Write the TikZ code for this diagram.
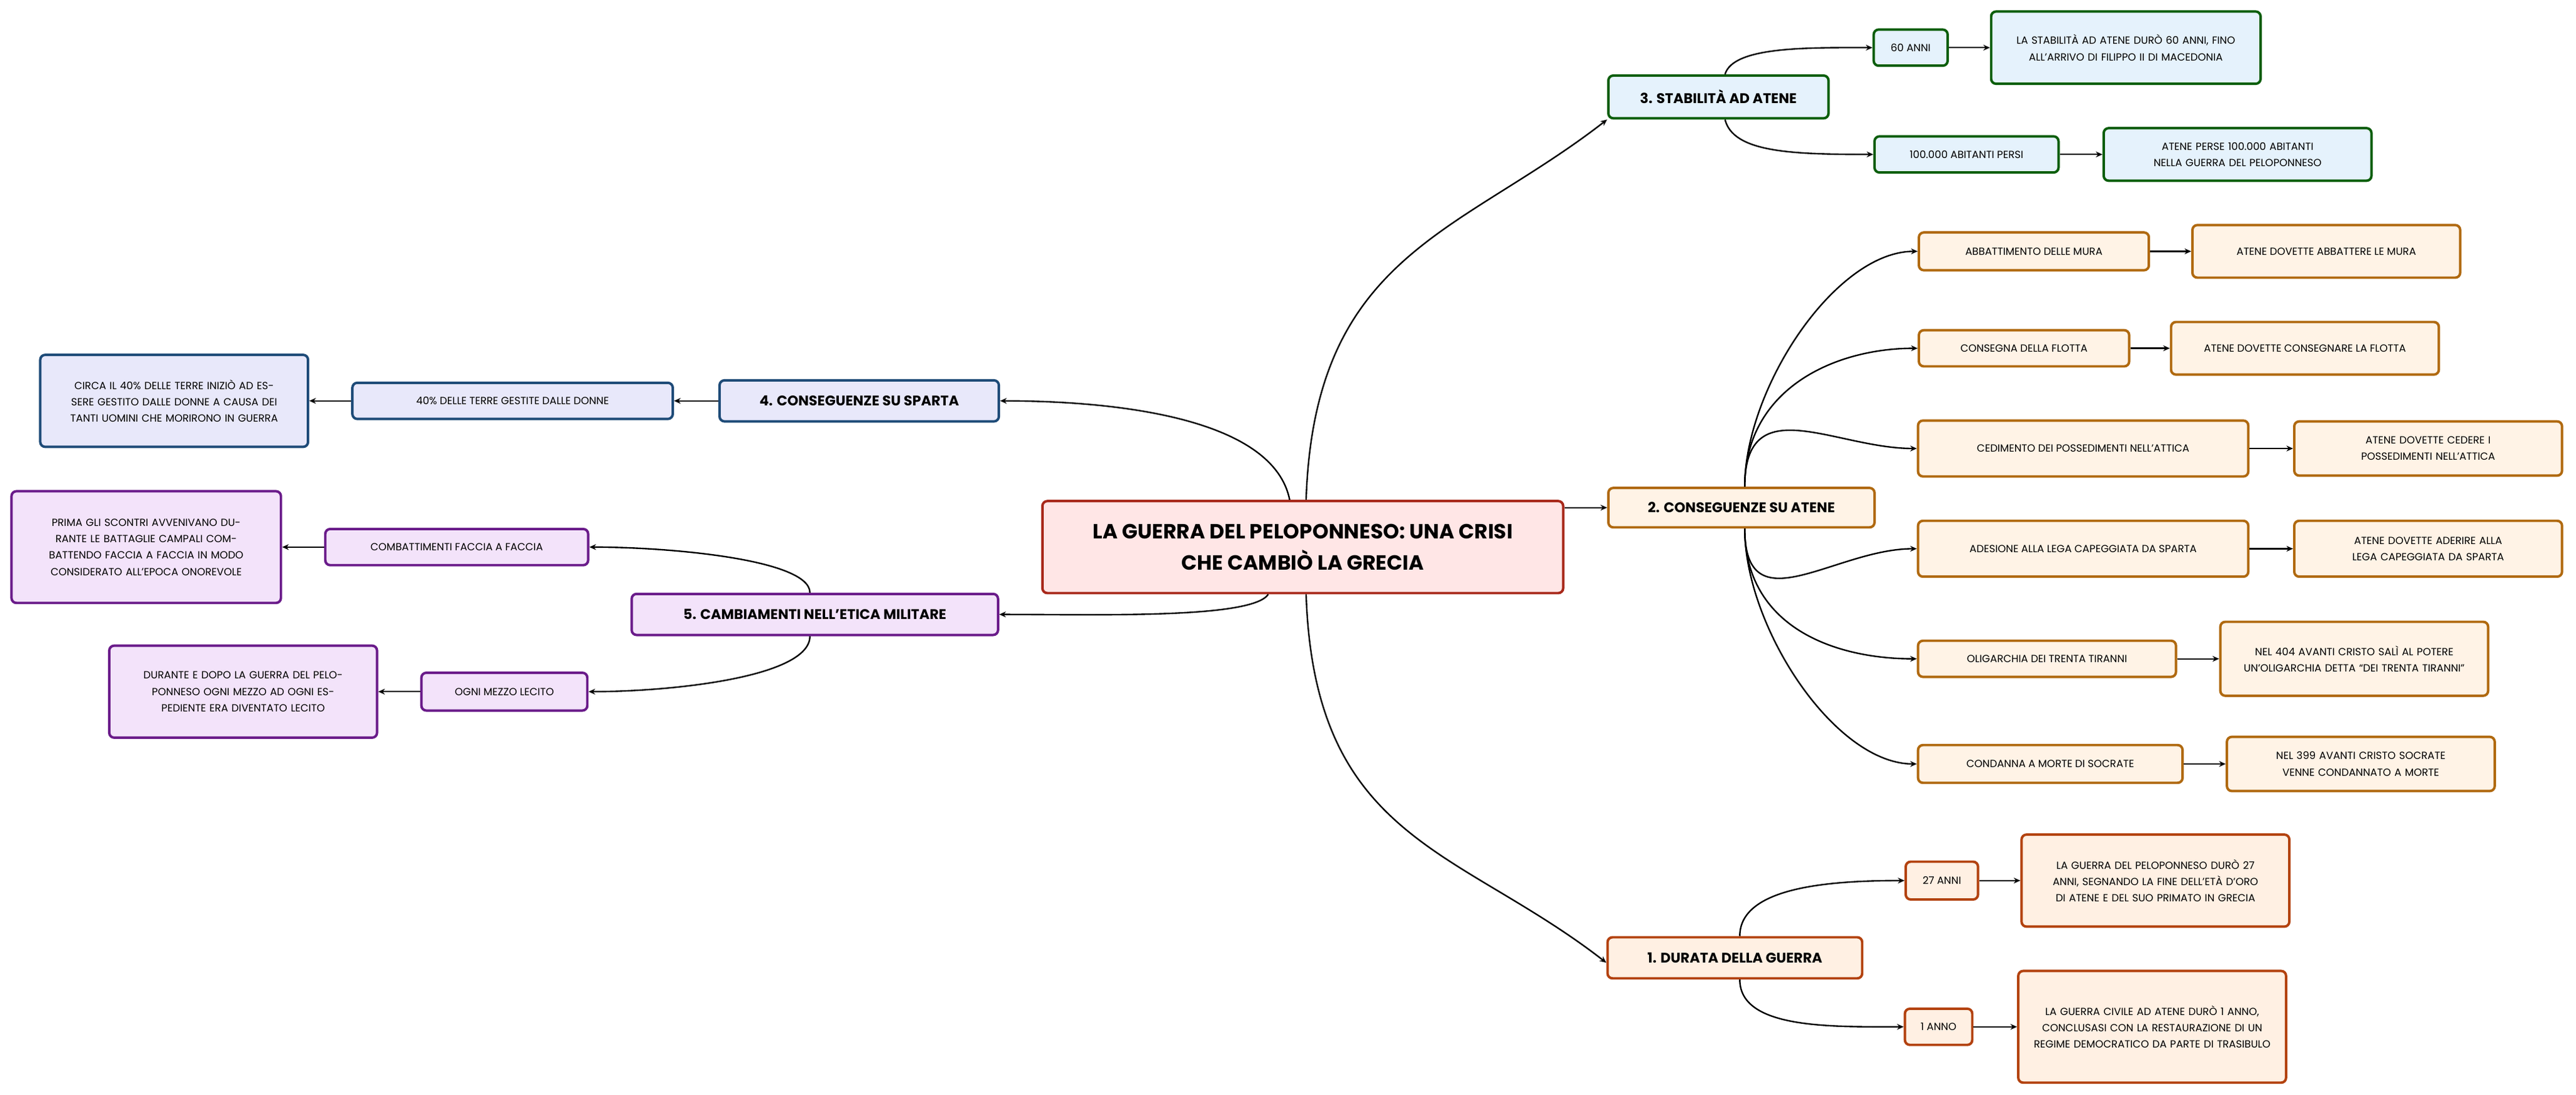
\documentclass[tikz,border=0pt]{standalone}
\usepackage{fontspec}
\setmainfont{Poppins}
\usetikzlibrary{arrows.meta}
\definecolor{rootB}{HTML}{A8281A}\definecolor{rootF}{HTML}{FFE6E6}
\definecolor{grB}{HTML}{0B5E0B}\definecolor{grF}{HTML}{E5F2FC}
\definecolor{orB}{HTML}{B0690F}\definecolor{orF}{HTML}{FFF3E6}
\definecolor{rdB}{HTML}{B3420F}\definecolor{rdF}{HTML}{FFF0E3}
\definecolor{blB}{HTML}{1E4B78}\definecolor{blF}{HTML}{E8E8FA}
\definecolor{puB}{HTML}{6A1B8A}\definecolor{puF}{HTML}{F3E3FA}
\tikzset{
 box/.style={draw,rounded corners=3pt,line width=1.5pt,align=center,inner sep=2pt,font=\fontsize{6.3}{10}\selectfont},
 lvl/.style={box,font=\bfseries\fontsize{8.5}{11}\selectfont},
 gr/.style={draw=grB,fill=grF},or/.style={draw=orB,fill=orF},rd/.style={draw=rdB,fill=rdF},
 bl/.style={draw=blB,fill=blF},pu/.style={draw=puB,fill=puF},
 conn/.style={line width=0.9pt,-{Stealth[length=4pt,width=3.5pt]}},
}
\begin{document}
\begin{tikzpicture}[x=1pt,y=-1pt]
\useasboundingbox (0,0) rectangle (1568,666.5);
\node[box,draw=rootB,fill=rootF,minimum width=317,minimum height=56,font=\bfseries\fontsize{12.5}{19}\selectfont] (root) at (793,333) {LA GUERRA DEL PELOPONNESO: UNA CRISI\\CHE CAMBIÒ LA GRECIA};
% 3
\node[lvl,gr,minimum width=134,minimum height=26] (s3) at (1046,59) {3. STABILITÀ AD ATENE};
\node[box,gr,minimum width=45,minimum height=22] (a60) at (1163,29) {60 ANNI};
\node[box,gr,minimum width=164,minimum height=44,text width=158] (b60) at (1294,29) {LA STABILITÀ AD ATENE DURÒ 60 ANNI, FINO ALL'ARRIVO DI FILIPPO II DI MACEDONIA};
\node[box,gr,minimum width=112,minimum height=22] (a100) at (1197,94) {100.000 ABITANTI PERSI};
\node[box,gr,minimum width=163,minimum height=32,text width=150] (b100) at (1362,94) {ATENE PERSE 100.000 ABITANTI NELLA GUERRA DEL PELOPONNESO};
% 2
\node[lvl,or,minimum width=162,minimum height=24] (s2) at (1060,309) {2. CONSEGUENZE SU ATENE};
\node[box,or,minimum width=140,minimum height=23] (c1) at (1238,153) {ABBATTIMENTO DELLE MURA};
\node[box,or,minimum width=163,minimum height=32] (d1) at (1416,153) {ATENE DOVETTE ABBATTERE LE MURA};
\node[box,or,minimum width=128,minimum height=22] (c2) at (1232,212) {CONSEGNA DELLA FLOTTA};
\node[box,or,minimum width=163,minimum height=32] (d2) at (1403,212) {ATENE DOVETTE CONSEGNARE LA FLOTTA};
\node[box,or,minimum width=201,minimum height=34] (c3) at (1268,273) {CEDIMENTO DEI POSSEDIMENTI NELL'ATTICA};
\node[box,or,minimum width=163,minimum height=33,text width=157] (d3) at (1478,273) {ATENE DOVETTE CEDERE I POSSEDIMENTI NELL'ATTICA};
\node[box,or,minimum width=201,minimum height=34] (c4) at (1268,334) {ADESIONE ALLA LEGA CAPEGGIATA DA SPARTA};
\node[box,or,minimum width=163,minimum height=34,text width=140] (d4) at (1478,334) {ATENE DOVETTE ADERIRE ALLA LEGA CAPEGGIATA DA SPARTA};
\node[box,or,minimum width=157,minimum height=22] (c5) at (1246,401) {OLIGARCHIA DEI TRENTA TIRANNI};
\node[box,or,minimum width=163,minimum height=45,text width=140] (d5) at (1433,401) {NEL 404 AVANTI CRISTO SALÌ AL POTERE UN'OLIGARCHIA DETTA “DEI TRENTA TIRANNI”};
\node[box,or,minimum width=161,minimum height=23] (c6) at (1248,465) {CONDANNA A MORTE DI SOCRATE};
\node[box,or,minimum width=163,minimum height=33,text width=150] (d6) at (1437,465) {NEL 399 AVANTI CRISTO SOCRATE VENNE CONDANNATO A MORTE};
% 1
\node[lvl,rd,minimum width=155,minimum height=25] (s1) at (1056,583) {1. DURATA DELLA GUERRA};
\node[box,rd,minimum width=44,minimum height=23] (e1) at (1182,536) {27 ANNI};
\node[box,rd,minimum width=163,minimum height=56,text width=150] (f1) at (1312,536) {LA GUERRA DEL PELOPONNESO DURÒ 27 ANNI, SEGNANDO LA FINE DELL'ETÀ D'ORO DI ATENE E DEL SUO PRIMATO IN GRECIA};
\node[box,rd,minimum width=41,minimum height=22] (e2) at (1180,625) {1 ANNO};
\node[box,rd,minimum width=163,minimum height=68,text width=157] (f2) at (1310,625) {LA GUERRA CIVILE AD ATENE DURÒ 1 ANNO, CONCLUSASI CON LA RESTAURAZIONE DI UN REGIME DEMOCRATICO DA PARTE DI TRASIBULO};
% 4
\node[lvl,bl,minimum width=170,minimum height=25] (s4) at (523,244) {4. CONSEGUENZE SU SPARTA};
\node[box,bl,minimum width=195,minimum height=22] (g1) at (312,244) {40\% DELLE TERRE GESTITE DALLE DONNE};
\node[box,bl,minimum width=163,minimum height=56,text width=157] (h1) at (106,244) {CIRCA IL 40\% DELLE TERRE INIZIÒ AD ESSERE GESTITO DALLE DONNE A CAUSA DEI TANTI UOMINI CHE MORIRONO IN GUERRA};
% 5
\node[lvl,pu,minimum width=223,minimum height=25] (s5) at (496,374) {5. CAMBIAMENTI NELL'ETICA MILITARE};
\node[box,pu,minimum width=160,minimum height=22] (k1) at (278,333) {COMBATTIMENTI FACCIA A FACCIA};
\node[box,pu,minimum width=164,minimum height=68,text width=158] (l1) at (89,333) {PRIMA GLI SCONTRI AVVENIVANO DURANTE LE BATTAGLIE CAMPALI COMBATTENDO FACCIA A FACCIA IN MODO CONSIDERATO ALL'EPOCA ONOREVOLE};
\node[box,pu,minimum width=101,minimum height=23] (k2) at (307,421) {OGNI MEZZO LECITO};
\node[box,pu,minimum width=163,minimum height=56,text width=150] (l2) at (148,421) {DURANTE E DOPO LA GUERRA DEL PELOPONNESO OGNI MEZZO AD OGNI ESPEDIENTE ERA DIVENTATO LECITO};
% root connectors
\draw[conn] ([xshift=2pt]root.north) .. controls +(5,-150) and +(-90,70) .. (s3.south west);
\draw[conn] (root.east|-s2) -- (s2.west);
\draw[conn] ([xshift=2pt]root.south) .. controls +(5,150) and +(-90,-70) .. ([yshift=-3pt]s1.west);
\draw[conn] ([xshift=-8pt]root.north) .. controls +(-10,-50) and +(70,0) .. (s4.east);
\draw[conn] ([xshift=-21pt]root.south) .. controls +(-10,15) and +(60,0) .. (s5.east);
% 3 branch
\draw[conn] ([xshift=4pt]s3.north) .. controls +(5,-17) and +(-40,0) .. (a60.west);
\draw[conn] ([xshift=4pt]s3.south) .. controls +(5,20) and +(-50,0) .. (a100.west);
\draw[conn] (a60) -- (b60);
\draw[conn] (a100) -- (b100);
% 2 branch
\foreach \c in {c1,c2,c3}{\draw[conn] ([xshift=2pt]s2.north) .. controls +(0,-60) and +(-50,0) .. (\c.west);}
\foreach \c in {c4,c5,c6}{\draw[conn] ([xshift=2pt]s2.south) .. controls +(0,60) and +(-50,0) .. (\c.west);}
\draw[conn] (c1) -- (d1);\draw[conn] (c2) -- (d2);\draw[conn] (c3) -- (d3);
\draw[conn] (c4) -- (d4);\draw[conn] (c5) -- (d5);\draw[conn] (c6) -- (d6);
% 1 branch
\draw[conn] ([xshift=3pt]s1.north) .. controls +(0,-30) and +(-45,0) .. (e1.west);
\draw[conn] ([xshift=3pt]s1.south) .. controls +(0,30) and +(-45,0) .. (e2.west);
\draw[conn] (e1) -- (f1);\draw[conn] (e2) -- (f2);
% 4,5 branches
\draw[conn] (s4) -- (g1);\draw[conn] (g1) -- (h1);
\draw[conn] ([xshift=-3pt]s5.north) .. controls +(0,-20) and +(50,0) .. (k1.east);
\draw[conn] ([xshift=-3pt]s5.south) .. controls +(0,25) and +(50,0) .. (k2.east);
\draw[conn] (k1) -- (l1);\draw[conn] (k2) -- (l2);
\end{tikzpicture}
\end{document}
